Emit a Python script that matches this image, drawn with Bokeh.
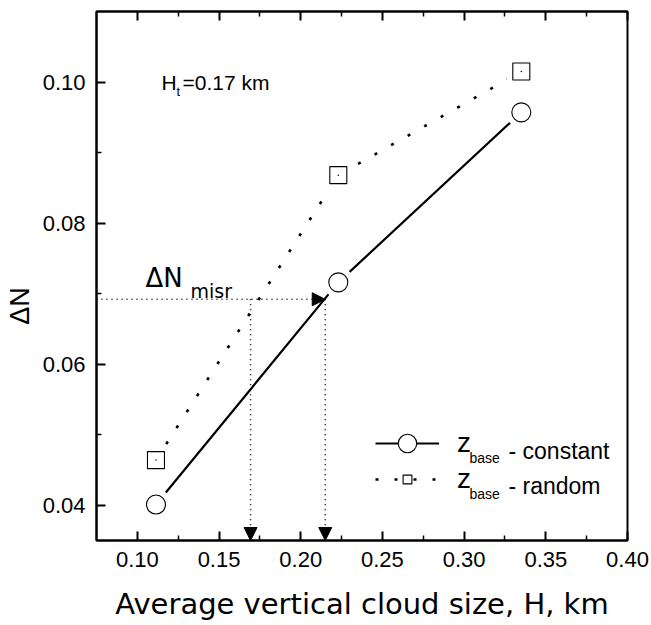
from bokeh.plotting import figure
from bokeh.models import (Range1d, LinearAxis, FixedTicker, NumeralTickFormatter, Label,
                          Arrow, NormalHead, Legend, LegendItem, ColumnDataSource,
                          CustomJSTickFormatter)
from bokeh.embed import file_html
from bokeh.resources import INLINE

# ---- data ----
H_km = [0.1114, 0.223, 0.335]            # average vertical cloud size, km
dN_constant = [0.0401, 0.0716, 0.0957]   # z_base - constant
dN_random = [0.0464, 0.0868, 0.1015]     # z_base - random
misr_level = 0.0692                      # Delta N_misr
misr_sizes = [0.1693, 0.2150]
x_ticks = [0.10, 0.15, 0.20, 0.25, 0.30, 0.35, 0.40]
x_minor = [0.125, 0.175, 0.225, 0.275, 0.325, 0.375]
y_ticks = [0.04, 0.06, 0.08, 0.10]
y_minor = [0.05, 0.07, 0.09]

p = figure(width=651, height=625,
           x_range=Range1d(0.075, 0.40), y_range=Range1d(0.035, 0.110),
           output_backend="svg", toolbar_location=None,
           min_border_left=96, min_border_right=24, min_border_top=11, min_border_bottom=85,
           background_fill_color="white", border_fill_color="white")
p.xgrid.visible = False
p.ygrid.visible = False
p.outline_line_color = "black"
p.outline_line_width = 2

xa = p.below[0]
ya = p.left[0]


def style(ax, ticks, minor, show_labels=True):
    ax.ticker = FixedTicker(ticks=ticks, minor_ticks=minor)
    ax.axis_line_width = 2
    ax.axis_line_color = "black"
    ax.major_tick_in = 9
    ax.major_tick_out = 0
    ax.minor_tick_in = 5
    ax.minor_tick_out = 0
    ax.major_tick_line_width = 2
    ax.minor_tick_line_width = 1.5
    ax.major_tick_line_color = "black"
    ax.minor_tick_line_color = "black"
    ax.major_label_text_font = "Liberation Sans"
    ax.major_label_text_color = "black"
    if show_labels:
        ax.formatter = NumeralTickFormatter(format="0.00")
        ax.major_label_text_font_size = "22px"
        ax.major_label_standoff = 11
    else:
        ax.formatter = CustomJSTickFormatter(code="return ''")
        ax.major_label_text_font_size = "0px"
        ax.major_label_standoff = 0


style(xa, x_ticks, x_minor)
style(ya, y_ticks, y_minor)
top = LinearAxis()
style(top, x_ticks, x_minor, show_labels=False)
p.add_layout(top, "above")

xa.axis_label = "Average vertical cloud size, H, km"
xa.axis_label_text_font = "DejaVu Sans"
xa.axis_label_text_font_style = "normal"
xa.axis_label_text_font_size = "29px"
xa.axis_label_text_color = "black"
xa.axis_label_standoff = 17

ya.axis_label = "\u0394N" + "\u00a0" * 8
ya.axis_label_text_font = "Liberation Sans"
ya.axis_label_text_font_style = "normal"
ya.axis_label_text_font_size = "27px"
ya.axis_label_text_color = "black"
ya.axis_label_standoff = 5

src = ColumnDataSource(dict(H=H_km, c=dN_constant, r=dN_random))

l_const = p.line("H", "c", source=src, line_color="black", line_width=2.2)
l_rand = p.line("H", "r", source=src, line_color="black", line_width=2.6, line_dash="3 16")

# white halos give the gap between line and marker
p.scatter("H", "c", source=src, marker="circle", size=31, fill_color="white", line_color=None)
p.scatter("H", "r", source=src, marker="square", size=29, fill_color="white", line_color=None)

m_const = p.scatter("H", "c", source=src, marker="circle", size=19,
                    fill_color="white", line_color="black", line_width=1.1)
m_rand = p.scatter("H", "r", source=src, marker="square", size=17,
                   fill_color="white", line_color="black", line_width=1.1)
p.scatter("H", "r", source=src, marker="circle", size=1.5, fill_color="black", line_color=None)

# ---- Delta N_misr construction ----
head_style = dict(fill_color="black", line_color="black", line_width=1)
p.add_layout(Arrow(x_start=p.x_range.start, y_start=misr_level, x_end=misr_sizes[1], y_end=misr_level,
                   line_dash="1 4", line_width=1.5, line_color="black",
                   end=NormalHead(size=13, **head_style)))
for xs in misr_sizes:
    p.add_layout(Arrow(x_start=xs, y_start=misr_level, x_end=xs, y_end=p.y_range.start,
                       line_dash="1 4", line_width=1.5, line_color="black",
                       end=NormalHead(size=13, **head_style)))

# ---- legend (two legends to match differing marker sizes) ----
common = dict(padding=0, margin=0, spacing=0, label_standoff=18,
              border_line_color=None, background_fill_alpha=0,
              label_text_font="Liberation Sans", label_text_font_size="28px",
              label_text_baseline="alphabetic",
              label_text_color="black", glyph_width=64)
leg1 = Legend(items=[LegendItem(label="z", renderers=[l_const, m_const])],
              location=(279, 74), glyph_height=46, **common)
leg2 = Legend(items=[LegendItem(label="z", renderers=[l_rand, m_rand])],
              location=(279, 45), glyph_height=22, **common)
p.add_layout(leg1)
p.add_layout(leg2)


def lab(x, y, text, font, size):
    p.add_layout(Label(x=x, y=y, x_units="screen", y_units="screen", text=text,
                       text_font=font, text_font_size=size, text_color="black",
                       text_baseline="alphabetic", text_align="left"))


# legend texts
lab(373, 83, "base", "Liberation Sans", "14px")
lab(412, 90, "- constant", "Liberation Sans", "23px")
lab(373, 47, "base", "Liberation Sans", "14px")
lab(412, 54.5, "- random", "Liberation Sans", "23px")

# H_t annotation
lab(65, 458.3, "H", "Liberation Sans", "21px")
lab(80, 449.3, "t", "Liberation Sans", "13px")
lab(86, 458.3, "=0.17 km", "Liberation Sans", "21px")

# Delta N_misr annotation
lab(49, 263, "\u0394N", "DejaVu Sans", "26px")
lab(94, 250, "misr", "DejaVu Sans", "19px")

open("out.html", "w").write(file_html(p, INLINE))
